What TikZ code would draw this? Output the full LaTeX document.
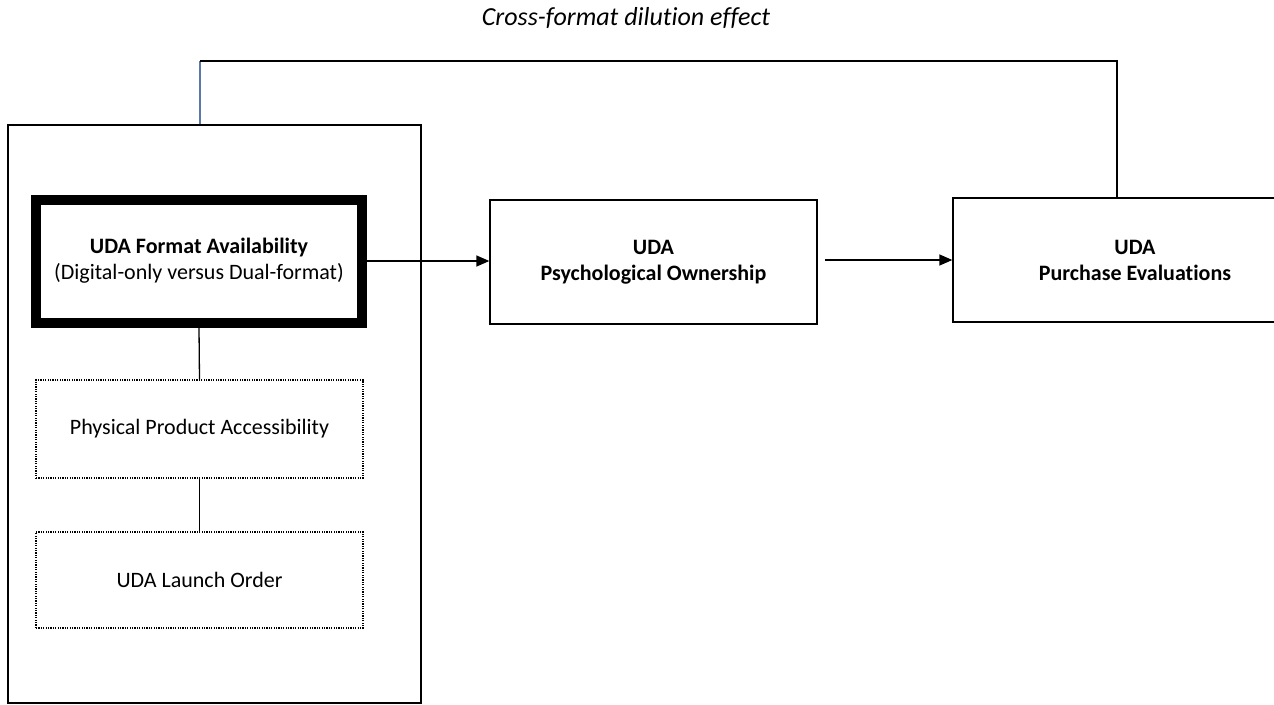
\documentclass[tikz,border=0pt]{standalone}
\usepackage{fontspec}
\setmainfont{Carlito}[Ligatures=NoCommon]
\usetikzlibrary{arrows.meta}
\begin{document}
\begin{tikzpicture}[x=1pt,y=-1pt,
  box/.style={draw,line width=1.3pt,align=center,inner sep=0pt,font=\fontsize{22}{26}\selectfont},
  thickbox/.style={box,line width=10pt},
  dotbox/.style={box,line width=1.2pt,dash pattern=on 1.2pt off 1.2pt},
  conn/.style={line width=1.3pt},
  arr/.style={conn,-{Triangle[length=13pt,width=11pt]}}]
\useasboundingbox (0,0) rectangle (1274,704);
\clip (0,0) rectangle (1274,704);
\fill[white] (0,0) rectangle (1274,704);
\node[font=\fontsize{26}{30}\selectfont\itshape] (title) at (626,18) {Cross-format dilution effect};
\node[draw,line width=1.3pt,minimum width=413pt,minimum height=578pt,inner sep=0pt] (outer) at (214.5,414) {};
\node[thickbox,minimum width=326pt,minimum height=123pt] (fa) at (199,261) {\textbf{UDA Format Availability}\\(Digital-only versus Dual-format)};
\node[box,minimum width=327pt,minimum height=124pt] (po) at (653.5,262) {\textbf{UDA}\\\textbf{Psychological Ownership}};
\node[box,minimum width=364pt,minimum height=124pt] (pe) at (1135,260) {\textbf{UDA}\\\textbf{Purchase Evaluations}};
\node[dotbox,minimum width=327pt,minimum height=98pt] (pa) at (199.5,429) {Physical Product Accessibility};
\node[dotbox,minimum width=327pt,minimum height=96pt] (lo) at (199.5,580) {UDA Launch Order};
\coordinate (tl) at (200,61);
\coordinate (tr) at (1117,61);
\coordinate (s2) at (825,260);
\draw[arr] (fa.east) -- (fa.east -| po.west);
\draw[arr] (s2) -- (pe.west);
\draw[conn,draw={rgb,255:red,90;green,120;blue,170}] (tl |- outer.north) -- (tl);
\draw[conn] (tl) -- (tr) -- (tr |- pe.north);
\draw[conn] (fa.south) -- (pa.north);
\draw[conn] (pa.south) -- (lo.north);
\end{tikzpicture}
\end{document}
